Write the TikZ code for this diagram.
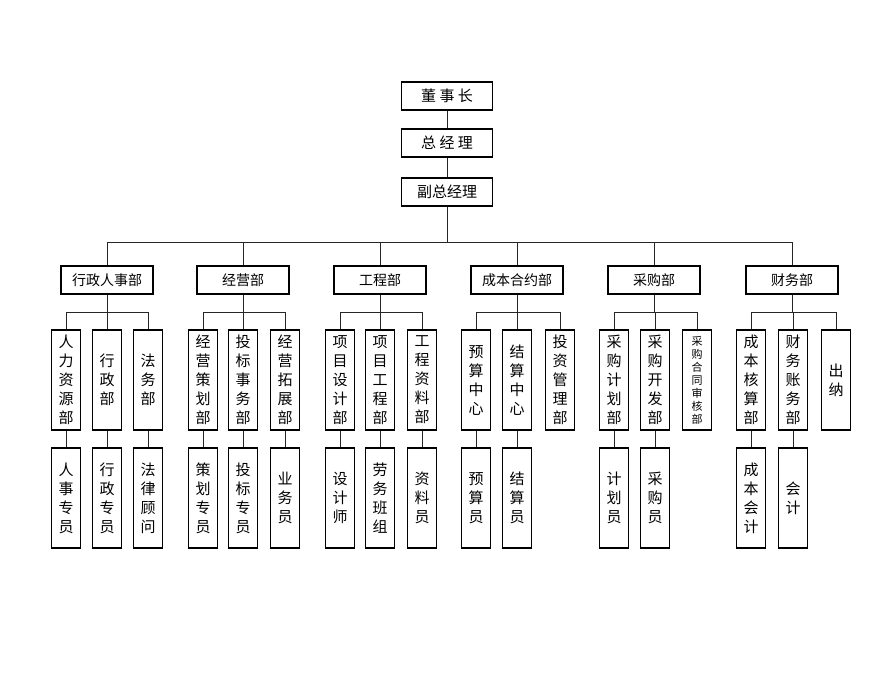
\documentclass[tikz,border=0pt]{standalone}
\usepackage{fontspec}
\setmainfont{Noto Sans CJK SC}
\begin{document}
\begin{tikzpicture}[x=1pt,y=-1pt,
  ln/.style={line width=1pt,draw=black!85},
  topbox/.style={draw,line width=1.2pt,minimum width=91pt,minimum height=28pt,inner sep=0pt,font=\fontsize{15}{15}\selectfont},
  deptbox/.style={draw,line width=1.2pt,minimum width=92pt,minimum height=28pt,inner sep=0pt,font=\fontsize{14}{14}\selectfont},
  vbox/.style={draw,line width=1.2pt,minimum width=29pt,minimum height=100pt,inner sep=0pt,align=center,font=\fontsize{15}{19}\selectfont},
  sbox/.style={vbox,font=\fontsize{11}{13}\selectfont}]
\useasboundingbox (0,0) rectangle (892,673);
\node[topbox] (ceo) at (447,96) {董 事 长};
\node[topbox] (gm) at (447,143) {总 经 理};
\node[topbox] (vgm) at (447,192) {副总经理};
\draw[ln] (ceo) -- (gm); \draw[ln] (gm) -- (vgm);
\coordinate (bus) at (447,242);
\draw[ln] (vgm) -- (bus);
\node[deptbox] (d1) at (107,280) {行政人事部};
\node[deptbox] (d2) at (243,280) {经营部};
\node[deptbox] (d3) at (380,280) {工程部};
\node[deptbox] (d4) at (517,280) {成本合约部};
\node[deptbox] (d5) at (654,280) {采购部};
\node[deptbox] (d6) at (792,280) {财务部};
\draw[ln] (d1.north) -- (d1.north |- bus) -| (d6.north);
\foreach \d in {d2,d3,d4,d5} \draw[ln] (\d.north) -- (\d.north |- bus);
% children
\node[vbox] (c11) at (66,380) {人\\力\\资\\源\\部};
\node[vbox] (c12) at (107,380) {行\\政\\部};
\node[vbox] (c13) at (148,380) {法\\务\\部};
\node[vbox] (c21) at (203,380) {经\\营\\策\\划\\部};
\node[vbox] (c22) at (243,380) {投\\标\\事\\务\\部};
\node[vbox] (c23) at (285,380) {经\\营\\拓\\展\\部};
\node[vbox] (c31) at (340,380) {项\\目\\设\\计\\部};
\node[vbox] (c32) at (380,380) {项\\目\\工\\程\\部};
\node[vbox] (c33) at (422,380) {工\\程\\资\\料\\部};
\node[vbox] (c41) at (476,380) {预\\算\\中\\心};
\node[vbox] (c42) at (517,380) {结\\算\\中\\心};
\node[vbox] (c43) at (560,380) {投\\资\\管\\理\\部};
\node[vbox] (c51) at (614,380) {采\\购\\计\\划\\部};
\node[vbox] (c52) at (655,380) {采\\购\\开\\发\\部};
\node[sbox] (c53) at (697,380) {采\\购\\合\\同\\审\\核\\部};
\node[vbox] (c61) at (751,380) {成\\本\\核\\算\\部};
\node[vbox] (c62) at (793,380) {财\\务\\账\\务\\部};
\node[vbox] (c63) at (836,380) {出\\纳};
\foreach \d/\a/\b/\c in {d1/c11/c12/c13,d2/c21/c22/c23,d3/c31/c32/c33,d4/c41/c42/c43,d5/c51/c52/c53,d6/c61/c62/c63}{
  \draw[ln] (\d.south) -- (\d.south |- 0,312);
  \draw[ln] (\a.north) -- (\a.north |- 0,312) -| (\c.north);
  \draw[ln] (\b.north) -- (\b.north |- 0,312);
}
% grandchildren
\node[vbox] (g11) at (66,498) {人\\事\\专\\员};
\node[vbox] (g12) at (107,498) {行\\政\\专\\员};
\node[vbox] (g13) at (148,498) {法\\律\\顾\\问};
\node[vbox] (g21) at (203,498) {策\\划\\专\\员};
\node[vbox] (g22) at (243,498) {投\\标\\专\\员};
\node[vbox] (g23) at (285,498) {业\\务\\员};
\node[vbox] (g31) at (340,498) {设\\计\\师};
\node[vbox] (g32) at (380,498) {劳\\务\\班\\组};
\node[vbox] (g33) at (422,498) {资\\料\\员};
\node[vbox] (g41) at (476,498) {预\\算\\员};
\node[vbox] (g42) at (517,498) {结\\算\\员};
\node[vbox] (g51) at (614,498) {计\\划\\员};
\node[vbox] (g52) at (655,498) {采\\购\\员};
\node[vbox] (g61) at (751,498) {成\\本\\会\\计};
\node[vbox] (g62) at (793,498) {会\\计};
\foreach \n in {11,12,13,21,22,23,31,32,33,41,42,51,52,61,62} \draw[ln] (c\n) -- (g\n);
\end{tikzpicture}
\end{document}
